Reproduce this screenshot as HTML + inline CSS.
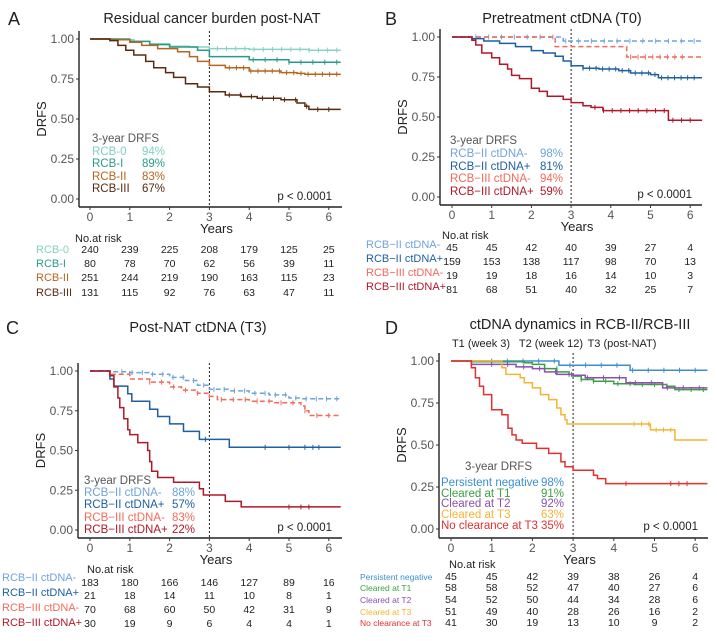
<!DOCTYPE html>
<html><head><meta charset="utf-8">
<style>
html,body{margin:0;padding:0;background:#fff;}
svg{display:block;font-family:"Liberation Sans",Arial,sans-serif;}
</style></head>
<body>
<svg id="s" width="717" height="641" viewBox="0 0 717 641" xmlns="http://www.w3.org/2000/svg"></svg>
<script>
const S=document.getElementById('s');
let H='';
function T(x,y,txt,o){o=o||{};H+=`<text x="${x}" y="${y}" font-size="${o.fs||11}" fill="${o.c||'#222'}" text-anchor="${o.a||'start'}"${o.tr?` transform="${o.tr}"`:''}>${txt}</text>`;}
function panel(p){
  const X=t=>p.x0+t*p.sx, Y=s=>p.y0+(p.y1-p.y0)*s;
  H+=`<line x1="${p.ax}" y1="${Y(1)-8}" x2="${p.ax}" y2="${p.axy}" stroke="#222" stroke-width="1.4"/>`;
  H+=`<line x1="${p.ax}" y1="${p.axy}" x2="${p.xr}" y2="${p.axy}" stroke="#222" stroke-width="1.4"/>`;
  [0,0.25,0.5,0.75,1].forEach(v=>{H+=`<line x1="${p.ax-3}" y1="${Y(v)}" x2="${p.ax}" y2="${Y(v)}" stroke="#333"/>`;T(p.ax-5,Y(v)+4,v.toFixed(2),{a:'end',c:'#555',fs:12});});
  for(let i=0;i<=6;i++){H+=`<line x1="${X(i)}" y1="${p.axy}" x2="${X(i)}" y2="${p.axy+3}" stroke="#333"/>`;T(X(i),p.axy+14,i,{a:'middle',c:'#555',fs:12});}
  T((p.ax+p.xr)/2+6,p.axy+26,'Years',{a:'middle',fs:13});
  T(0,0,'DRFS',{a:'middle',fs:13,tr:`translate(${p.ax-33},${(Y(0)+Y(1))/2}) rotate(-90)`});
  H+=`<line x1="${X(3)}" y1="${Y(1)-8}" x2="${X(3)}" y2="${p.axy}" stroke="#222" stroke-dasharray="2,2"/>`;
  p.curves.forEach(c=>{
    let d=`M${X(0)},${Y(1)}`;
    c.k.forEach(([t,v])=>{d+=`H${X(t).toFixed(1)}V${Y(v).toFixed(1)}`;});
    d+=`H${X(p.tend)}`;
    H+=`<path d="${d}" fill="none" stroke="${c.c}" stroke-width="1.5"${c.dash?' stroke-dasharray="5,3"':''}/>`;
    (c.cen||[]).forEach(t=>{let v=1;c.k.forEach(([tt,vv])=>{if(tt<=t)v=vv;});H+=`<line x1="${X(t)}" y1="${Y(v)-2.5}" x2="${X(t)}" y2="${Y(v)+2.5}" stroke="${c.c}" stroke-width="1"/>`;});
  });
  T(p.xr-10,Y(0)+1,'p &lt; 0.0001',{a:'end',fs:11.5});
  T(p.title[0],p.title[1],p.title[2],{a:'middle',fs:14.5});
  T(p.lab[0],p.lab[1],p.lab[2],{fs:18});
  T(p.leg.x,p.leg.y,'3-year DRFS',{c:'#555',fs:11.5});
  p.leg.rows.forEach((r,i)=>{T(p.leg.x2||p.leg.x,p.leg.ry[i],r[0],{c:r[2],fs:11.5});T(p.leg.px,p.leg.ry[i],r[1],{c:r[2],fs:11.5});});
  T(p.rk.x,p.rk.y,'No.at risk',{fs:11});
  p.rk.rows.forEach((r,i)=>{T(p.rk.lx,p.rk.ly[i],r[0],{c:r[1],fs:p.rk.lfs||11});r[2].forEach((n,j)=>T(X(j),p.rk.ny[i],n,{a:'middle',fs:10.5}));});
}
function cen(a,b,n){let r=[];for(let i=0;i<n;i++)r.push(a+(b-a)*i/(n-1));return r;}
panel({x0:90,sx:39.8,y1:39,y0:199,ax:79,axy:207,xr:342,tend:6.3,
 title:[212,23,'Residual cancer burden post-NAT'],lab:[8,25,'A'],
 curves:[
  {c:'#88d3c4',k:[[0.6,0.995],[1.1,0.985],[1.5,0.97],[2,0.955],[2.5,0.95],[3,0.94],[4,0.935],[5.5,0.93]],cen:cen(3.2,6.2,14)},
  {c:'#2a9a8c',k:[[1,0.985],[1.5,0.965],[2,0.95],[2.7,0.93],[3,0.89],[4,0.87],[5,0.855]],cen:cen(4.1,6.2,8)},
  {c:'#b5651d',k:[[0.5,0.995],[1,0.98],[1.3,0.96],[1.7,0.94],[2.2,0.92],[2.5,0.89],[2.7,0.86],[3,0.835],[3.4,0.82],[4,0.8],[4.8,0.79],[5.2,0.785],[5.4,0.78]],cen:cen(3.5,6.2,16)},
  {c:'#5a2a10',k:[[0.5,0.99],[0.7,0.96],[0.9,0.93],[1.1,0.9],[1.4,0.86],[1.6,0.82],[1.9,0.79],[2.1,0.76],[2.4,0.72],[2.7,0.7],[3,0.67],[3.4,0.65],[3.8,0.64],[4.2,0.63],[4.8,0.62],[5.2,0.6],[5.4,0.58],[5.5,0.56]],cen:cen(3.5,6,10)}],
 leg:{x:92,y:142,px:142,ry:[155,167,180,192],rows:[['RCB-0','94%','#7fd1c2'],['RCB-I','89%','#2a9a8c'],['RCB-II','83%','#b5651d'],['RCB-III','67%','#5a2a10']]},
 rk:{x:75,y:242,lx:36,ly:[253,267,281,296],ny:[253,267,281,296],rows:[
  ['RCB-0','#7fd1c2',[240,239,225,208,179,125,25]],['RCB-I','#2a9a8c',[80,78,70,62,56,39,11]],
  ['RCB-II','#b5651d',[251,244,219,190,163,115,23]],['RCB-III','#5a2a10',[131,115,92,76,63,47,11]]]}});
panel({x0:452,sx:39.7,y1:37,y0:197,ax:440,axy:205,xr:702,tend:6.3,
 title:[562,23,'Pretreatment ctDNA (T0)'],lab:[385,25,'B'],
 curves:[
  {c:'#6fa3db',dash:1,k:[[2.8,0.975]],cen:cen(0.6,6.1,18)},
  {c:'#f26a5a',dash:1,k:[[2.6,0.94],[4.4,0.875]],cen:cen(4.5,5.8,8)},
  {c:'#1d5fa3',k:[[0.5,0.99],[0.8,0.975],[1.2,0.96],[1.6,0.94],[2,0.915],[2.3,0.9],[2.6,0.88],[2.8,0.85],[3,0.82],[3.3,0.805],[3.7,0.8],[4.2,0.79],[4.5,0.775],[5,0.765],[5.2,0.745]],cen:cen(3.3,6.1,18)},
  {c:'#b0182a',k:[[0.5,0.98],[0.6,0.95],[0.75,0.9],[1,0.87],[1.2,0.83],[1.4,0.8],[1.5,0.76],[1.7,0.74],[2,0.68],[2.2,0.66],[2.4,0.63],[2.8,0.61],[3,0.59],[3.3,0.57],[3.5,0.56],[3.8,0.54],[5.45,0.48]],cen:cen(3.6,6,12)}],
 leg:{x:450,y:144,px:540,ry:[157,170,182,195],rows:[['RCB−II ctDNA-','98%','#6fa3db'],['RCB−II ctDNA+','81%','#1d5fa3'],['RCB−III ctDNA-','94%','#f26a5a'],['RCB−III ctDNA+','59%','#b0182a']]},
 rk:{x:442,y:239,lx:366,ly:[248,262,276,290],ny:[251,265,279,293],rows:[
  ['RCB−II ctDNA-','#6fa3db',[45,45,42,40,39,27,4]],['RCB−II ctDNA+','#1d5fa3',[159,153,138,117,98,70,13]],
  ['RCB−III ctDNA-','#f26a5a',[19,19,18,16,14,10,3]],['RCB−III ctDNA+','#b0182a',[81,68,51,40,32,25,7]]]}});
panel({x0:90,sx:39.8,y1:371,y0:530,ax:78,axy:538,xr:342,tend:6.3,
 title:[198,332,'Post-NAT ctDNA (T3)'],lab:[6,334,'C'],
 curves:[
  {c:'#6fa3db',dash:1,k:[[0.5,0.995],[1,0.99],[1.5,0.98],[2,0.96],[2.4,0.94],[2.7,0.91],[3,0.885],[3.5,0.875],[4,0.86],[4.5,0.85],[5,0.83],[5.3,0.825]],cen:cen(0.8,6.2,22)},
  {c:'#f26a5a',dash:1,k:[[0.5,0.98],[1,0.95],[1.5,0.93],[2,0.9],[2.3,0.88],[2.7,0.86],[3,0.84],[3.2,0.82],[4,0.81],[4.6,0.8],[5.3,0.78],[5.4,0.75],[5.5,0.72]],cen:cen(1.5,6,16)},
  {c:'#1d5fa3',k:[[0.5,0.95],[0.6,0.905],[0.95,0.857],[1.05,0.81],[1.5,0.76],[1.7,0.714],[2,0.667],[2.35,0.62],[2.75,0.57],[3.5,0.52]],cen:[2.9,4.4,5,5.4,5.6,5.75]},
  {c:'#b0182a',k:[[0.5,0.97],[0.6,0.9],[0.7,0.83],[0.75,0.77],[0.85,0.7],[0.95,0.63],[1,0.6],[1.2,0.55],[1.45,0.5],[1.5,0.43],[1.55,0.37],[1.7,0.33],[2.1,0.3],[2.75,0.26],[2.85,0.22],[3.4,0.18],[3.8,0.145]],cen:[5,5.3,5.5]}],
 leg:{x:84,y:484,px:172,ry:[496,508,521,533],rows:[['RCB−II ctDNA-','88%','#6fa3db'],['RCB−II ctDNA+','57%','#1d5fa3'],['RCB−III ctDNA-','83%','#f26a5a'],['RCB−III ctDNA+','22%','#b0182a']]},
 rk:{x:87,y:573,lx:2,ly:[581,596,611,626],ny:[586,599,613,627],rows:[
  ['RCB−II ctDNA-','#6fa3db',[183,180,166,146,127,89,16]],['RCB−II ctDNA+','#1d5fa3',[21,18,14,11,10,8,1]],
  ['RCB−III ctDNA-','#f26a5a',[70,68,60,50,42,31,9]],['RCB−III ctDNA+','#b0182a',[30,19,9,6,4,4,1]]]}});
panel({x0:451,sx:40.7,y1:361,y0:529,ax:439,axy:538,xr:708,tend:6.3,
 title:[580,329,'ctDNA dynamics in RCB-II/RCB-III'],lab:[385,334,'D'],
 curves:[
  {c:'#3b8fd0',k:[[2.65,0.975],[4.4,0.945]],cen:cen(1,6,14)},
  {c:'#3aa040',k:[[0.5,0.995],[1.8,0.99],[2,0.98],[2.3,0.955],[2.6,0.935],[2.9,0.92],[3,0.91],[3.2,0.89],[3.5,0.88],[4,0.865],[4.5,0.86],[5.3,0.85],[5.5,0.83]],cen:cen(2.3,6.2,14)},
  {c:'#8a4fb0',k:[[0.5,0.98],[1.6,0.965],[2,0.955],[2.3,0.935],[2.6,0.92],[3,0.915],[3.3,0.9],[4.3,0.87],[5.2,0.84]],cen:cen(1,6.1,14)},
  {c:'#f5b335',k:[[1.25,0.96],[1.35,0.92],[1.7,0.9],[1.8,0.87],[2,0.84],[2.2,0.8],[2.4,0.77],[2.6,0.72],[2.7,0.68],[2.8,0.65],[2.85,0.625],[4.9,0.59],[5.5,0.53]],cen:cen(4.5,5.4,6)},
  {c:'#e03030',k:[[0.5,0.96],[0.6,0.9],[0.7,0.85],[0.8,0.8],[1,0.71],[1.25,0.68],[1.4,0.6],[1.5,0.56],[1.6,0.53],[1.75,0.51],[2.1,0.48],[2.4,0.45],[2.7,0.4],[2.8,0.37],[3,0.35],[3.5,0.32],[3.6,0.3],[3.8,0.27]],cen:[4.3,5.4,5.6,5.8]}],
 leg:{x:465,y:470,x2:441,px:541,ry:[486,497,507,518,529],rows:[['Persistent negative','98%','#3b8fd0'],['Cleared at T1','91%','#3aa040'],['Cleared at T2','92%','#8a4fb0'],['Cleared at T3','63%','#f5b335'],['No clearance at T3','35%','#e03030']]},
 rk:{x:449,y:568,lx:360,lfs:8.5,ly:[580,591,603,615,626],ny:[580,591,603,615,626],rows:[
  ['Persistent negative','#3b8fd0',[45,45,42,39,38,26,4]],['Cleared at T1','#3aa040',[58,58,52,47,40,27,6]],
  ['Cleared at T2','#8a4fb0',[54,52,50,44,34,28,6]],['Cleared at T3','#f5b335',[51,49,40,28,26,16,2]],['No clearance at T3','#e03030',[41,30,19,13,10,9,2]]]}});
T(481,347,'T1 (week 3)',{a:'middle',fs:11});
T(551,347,'T2 (week 12)',{a:'middle',fs:11});
T(622,347,'T3 (post-NAT)',{a:'middle',fs:11});
S.innerHTML=H;
</script>
</body></html>
